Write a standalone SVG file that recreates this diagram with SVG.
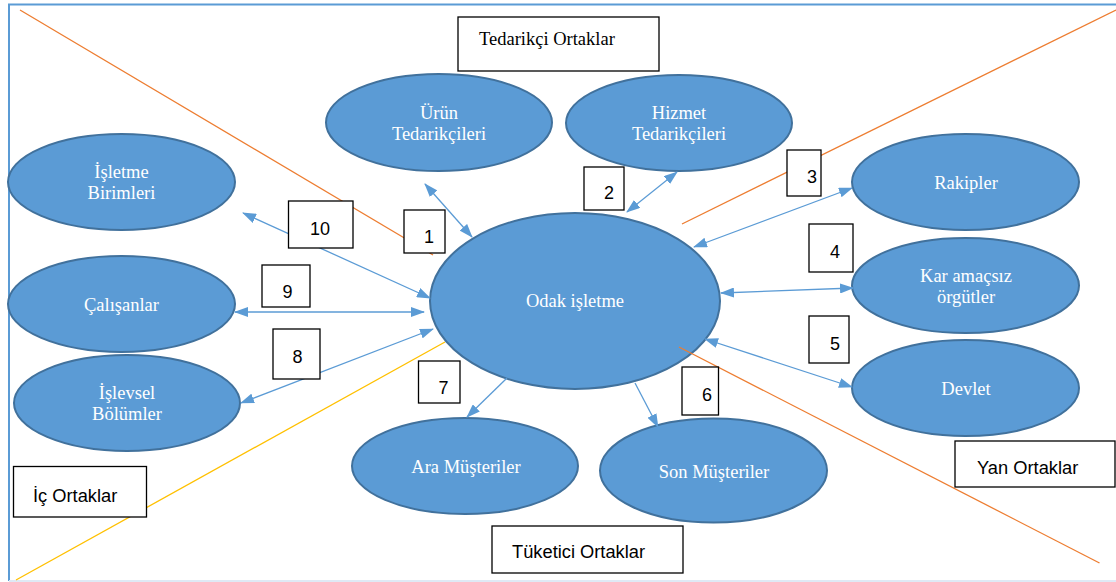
<svg xmlns="http://www.w3.org/2000/svg" width="1116" height="582" viewBox="0 0 1116 582">
<style>
.el{fill:#5B9BD5;stroke:#41719C;stroke-width:2}
.et{font-family:"Liberation Serif","Times New Roman",serif;font-size:18.5px;fill:#ffffff;text-anchor:middle}
.bx{fill:#ffffff;stroke:#000000;stroke-width:1.3}
.num{font-family:"Liberation Sans",Arial,sans-serif;font-size:18px;fill:#000000;text-anchor:middle}
.lbl{font-family:"Liberation Sans",Arial,sans-serif;font-size:18.3px;fill:#000000}
.lbls{font-family:"Liberation Serif","Times New Roman",serif;font-size:18.5px;fill:#000000}
.ar{stroke:#5B9BD5;stroke-width:1.3;fill:none}
.or{stroke:#ED7D31;stroke-width:1.3;fill:none}
.ye{stroke:#FFC000;stroke-width:1.3;fill:none}
</style>
<defs>
<marker id="ah" viewBox="0 0 14 10" refX="13" refY="5" markerWidth="14" markerHeight="10" markerUnits="userSpaceOnUse" orient="auto-start-reverse">
<path d="M0,0 L14,5 L0,10 z" fill="#5B9BD5"/>
</marker>
</defs>
<rect width="1116" height="582" fill="#ffffff"/>
<g id="frame">
<path d="M9,581 L9,4.5 L1116,4.5" fill="none" stroke="#5B9BD5" stroke-width="2"/>
<path d="M9,581 L1116,581" fill="none" stroke="#DFE9F5" stroke-width="2"/>
</g>
<g id="dividers">
<line class="or" x1="20" y1="10" x2="433" y2="255"/>
<line class="or" x1="1116" y1="10" x2="682" y2="224"/>
<line class="ye" x1="16" y1="580" x2="445" y2="342"/>
</g>
<g id="n-odak"><ellipse class="el" cx="575" cy="301" rx="145" ry="88"/><text class="et" x="575" y="307">Odak işletme</text></g>
<g id="n-urun"><ellipse class="el" cx="439" cy="122.5" rx="113" ry="48.5"/><text class="et" x="439" y="119">Ürün</text><text class="et" x="439" y="140">Tedarikçileri</text></g>
<g id="n-hizmet"><ellipse class="el" cx="679" cy="123" rx="113" ry="48"/><text class="et" x="679" y="119">Hizmet</text><text class="et" x="679" y="140">Tedarikçileri</text></g>
<g id="n-birimleri"><ellipse class="el" cx="121.5" cy="182" rx="113.5" ry="48"/><text class="et" x="121.5" y="178">İşletme</text><text class="et" x="121.5" y="199">Birimleri</text></g>
<g id="n-calisanlar"><ellipse class="el" cx="121.5" cy="304" rx="113.5" ry="48"/><text class="et" x="121.5" y="311">Çalışanlar</text></g>
<g id="n-islevsel"><ellipse class="el" cx="127" cy="403" rx="113" ry="48"/><text class="et" x="127" y="399">İşlevsel</text><text class="et" x="127" y="420">Bölümler</text></g>
<g id="n-ara"><ellipse class="el" cx="465" cy="466" rx="113" ry="48"/><text class="et" x="466" y="473">Ara Müşteriler</text></g>
<g id="n-son"><ellipse class="el" cx="713.5" cy="470.5" rx="113.5" ry="52"/><text class="et" x="714" y="478">Son Müşteriler</text></g>
<g id="n-rakipler"><ellipse class="el" cx="965.5" cy="182" rx="113.5" ry="48"/><text class="et" x="966" y="189">Rakipler</text></g>
<g id="n-kar"><ellipse class="el" cx="965.5" cy="285.5" rx="113.5" ry="47.5"/><text class="et" x="966" y="282">Kar amaçsız</text><text class="et" x="966" y="303">örgütler</text></g>
<g id="n-devlet"><ellipse class="el" cx="965.5" cy="388" rx="113.5" ry="48"/><text class="et" x="966" y="395">Devlet</text></g>
<line class="or" x1="679" y1="347" x2="1099.5" y2="563"/>
<g id="connectors">
<line class="ar" x1="425" y1="184" x2="472" y2="237" marker-start="url(#ah)" marker-end="url(#ah)"/>
<line class="ar" x1="627" y1="212" x2="677" y2="172" marker-start="url(#ah)" marker-end="url(#ah)"/>
<line class="ar" x1="694" y1="247" x2="852" y2="188" marker-start="url(#ah)" marker-end="url(#ah)"/>
<line class="ar" x1="721" y1="293" x2="853" y2="288" marker-start="url(#ah)" marker-end="url(#ah)"/>
<line class="ar" x1="705" y1="339" x2="852" y2="387" marker-start="url(#ah)" marker-end="url(#ah)"/>
<line class="ar" x1="635" y1="383" x2="658" y2="427" marker-end="url(#ah)"/>
<line class="ar" x1="507" y1="378" x2="467" y2="417" marker-end="url(#ah)"/>
<line class="ar" x1="433" y1="329" x2="241" y2="403" marker-start="url(#ah)" marker-end="url(#ah)"/>
<line class="ar" x1="235" y1="312" x2="424" y2="312" marker-start="url(#ah)" marker-end="url(#ah)"/>
<line class="ar" x1="243" y1="213" x2="430" y2="298" marker-start="url(#ah)" marker-end="url(#ah)"/>
</g>
<g id="b1"><rect class="bx" x="404" y="210" width="41" height="43"/><text class="num" x="429" y="243">1</text></g>
<g id="b2"><rect class="bx" x="584" y="167" width="40" height="43"/><text class="num" x="609" y="199">2</text></g>
<g id="b3"><rect class="bx" x="787" y="150" width="34" height="46"/><text class="num" x="812" y="183">3</text></g>
<g id="b4"><rect class="bx" x="809" y="224" width="44" height="48"/><text class="num" x="835" y="258">4</text></g>
<g id="b5"><rect class="bx" x="809" y="316" width="40" height="47"/><text class="num" x="835" y="350">5</text></g>
<g id="b6"><rect class="bx" x="682" y="367" width="36.5" height="48"/><text class="num" x="707" y="401">6</text></g>
<g id="b7"><rect class="bx" x="418.5" y="361" width="41.5" height="42"/><text class="num" x="443.5" y="394">7</text></g>
<g id="b8"><rect class="bx" x="273" y="329" width="47" height="50"/><text class="num" x="297.5" y="363">8</text></g>
<g id="b9"><rect class="bx" x="262" y="265" width="48" height="42"/><text class="num" x="287.5" y="298">9</text></g>
<g id="b10"><rect class="bx" x="288.5" y="201" width="64.5" height="47"/><text class="num" x="320" y="235">10</text></g>
<g id="l-tedarikci"><rect class="bx" x="458" y="17" width="201" height="54"/><text class="lbls" x="479" y="45">Tedarikçi Ortaklar</text></g>
<g id="l-ic"><rect class="bx" x="13.5" y="466.5" width="133" height="50.5"/><text class="lbl" x="33" y="502">İç Ortaklar</text></g>
<g id="l-tuketici"><rect class="bx" x="492" y="526" width="191" height="47"/><text class="lbl" x="512" y="558">Tüketici Ortaklar</text></g>
<g id="l-yan"><rect class="bx" x="955" y="441" width="160" height="46"/><text class="lbl" x="977" y="474">Yan Ortaklar</text></g>
</svg>
